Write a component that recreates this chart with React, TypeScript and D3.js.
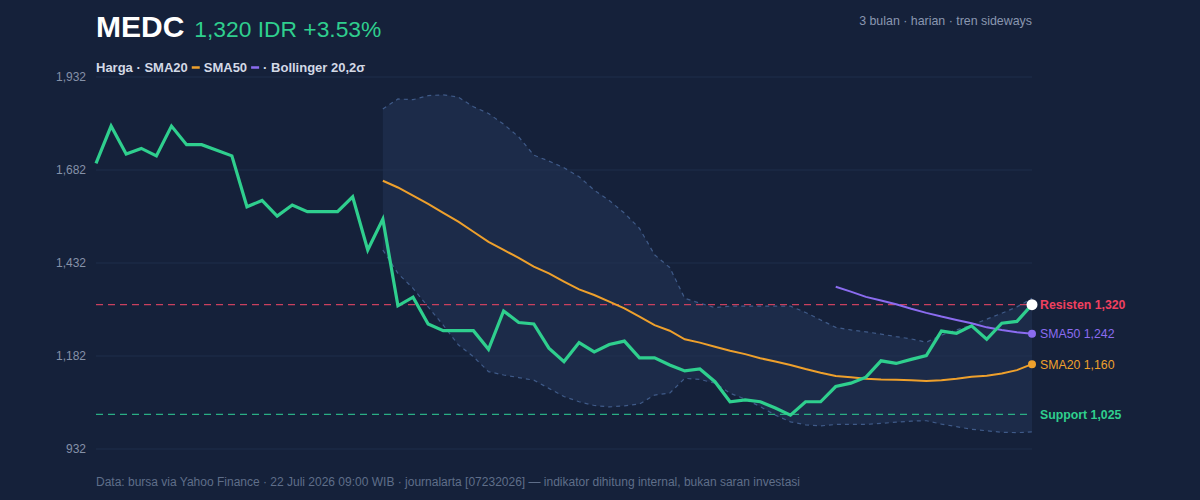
import { useEffect, useRef } from "react";
import * as d3 from "d3";

// daily closes, 3 months (63 sessions)
const price = [
  1700, 1800, 1725, 1740, 1720, 1800, 1750, 1750, 1735, 1720, 1583, 1600, 1558,
  1588, 1570, 1570, 1570, 1610, 1467, 1550, 1317, 1340, 1268, 1250, 1250, 1250,
  1200, 1303, 1272, 1268, 1203, 1167, 1218, 1193, 1213, 1222, 1177, 1177, 1158,
  1142, 1147, 1113, 1059, 1064, 1059, 1042, 1023, 1059, 1059, 1100, 1109, 1125,
  1169, 1162, 1173, 1183, 1249, 1243, 1263, 1227, 1270, 1275, 1320,
];

// indicators start at session 19 (SMA20 / bands) and 49 (SMA50)
const sma20Start = 19;
const sma20 = [
  1653, 1635, 1613, 1591, 1567, 1543, 1516, 1489, 1467, 1446, 1422, 1404, 1382,
  1361, 1346, 1328, 1310, 1288, 1265, 1250, 1227, 1218, 1207, 1196, 1187, 1176,
  1167, 1158, 1147, 1137, 1128, 1125, 1121, 1119, 1118, 1117, 1115, 1117, 1121,
  1126, 1129, 1135, 1144, 1160,
];
const bandUpper = [
  1846, 1873, 1871, 1882, 1884, 1878, 1852, 1834, 1805, 1771, 1722, 1706, 1688,
  1664, 1628, 1600, 1566, 1525, 1454, 1420, 1337, 1324, 1312, 1316, 1316, 1316,
  1316, 1316, 1299, 1279, 1259, 1252, 1247, 1241, 1234, 1228, 1219, 1238, 1252,
  1265, 1281, 1297, 1314, 1337,
];
const bandLower = [
  1467, 1404, 1364, 1314, 1265, 1212, 1180, 1140, 1131, 1124, 1117, 1095, 1073,
  1059, 1049, 1045, 1048, 1053, 1077, 1082, 1122, 1119, 1109, 1082, 1066, 1046,
  1023, 1005, 997, 994, 998, 998, 998, 1001, 1004, 1007, 1008, 999, 992, 985,
  981, 977, 976, 978,
];
const sma50Start = 49;
const sma50 = [
  1368, 1355, 1341, 1331, 1321, 1309, 1298, 1288, 1279, 1270, 1259, 1252, 1246,
  1242,
];

const resistance = 1320;
const support = 1025;
const yTicks = [932, 1182, 1432, 1682, 1932];

const FONT = "'Liberation Sans', Arial, Helvetica, sans-serif";

const App = () => {
  const svgRef = useRef<SVGSVGElement>(null);

  useEffect(() => {
    document.body.style.margin = "0";
    const width = 1200;
    const height = 500;
    const left = 96;
    const right = 1032;

    const svg = d3.select(svgRef.current);
    svg.selectAll("*").remove();
    svg.attr("width", width).attr("height", height).style("display", "block");

    svg
      .append("rect")
      .attr("width", width)
      .attr("height", height)
      .attr("fill", "#15213a");

    const x = d3
      .scaleLinear()
      .domain([0, price.length - 1])
      .range([left, right]);
    const y = d3.scaleLinear().domain([932, 1932]).range([449, 77]);

    // bollinger band fill
    const band = bandUpper.map((u, i) => ({
      i: i + sma20Start,
      u,
      l: bandLower[i],
    }));
    const area = d3
      .area<{ i: number; u: number; l: number }>()
      .x((d) => x(d.i))
      .y0((d) => y(d.l))
      .y1((d) => y(d.u));
    svg
      .append("path")
      .attr("d", area(band))
      .attr("fill", "#1c2b49");

    // grid
    svg
      .append("g")
      .selectAll("line")
      .data(yTicks)
      .join("line")
      .attr("x1", left)
      .attr("x2", right)
      .attr("y1", (d) => y(d))
      .attr("y2", (d) => y(d))
      .attr("stroke", "#243452")
      .attr("stroke-opacity", 0.7)
      .attr("stroke-width", 1);

    svg
      .append("g")
      .selectAll("text")
      .data(yTicks)
      .join("text")
      .attr("x", 86)
      .attr("y", (d) => y(d) + 4)
      .attr("text-anchor", "end")
      .attr("font-family", FONT)
      .attr("font-size", 12)
      .attr("fill", "#8591a8")
      .text((d) => d3.format(",")(d));

    // band edges
    const edge = d3
      .line<number>()
      .x((_, i) => x(i + sma20Start))
      .y((d) => y(d));
    [bandUpper, bandLower].forEach((b) => {
      svg
        .append("path")
        .attr("d", edge(b))
        .attr("fill", "none")
        .attr("stroke", "#3f5a88")
        .attr("stroke-width", 1.2)
        .attr("stroke-dasharray", "4,4");
    });

    // support / resistance
    const levels = [
      { v: resistance, c: "#c8405e" },
      { v: support, c: "#2aae84" },
    ];
    levels.forEach((lv) => {
      svg
        .append("line")
        .attr("x1", left)
        .attr("x2", right)
        .attr("y1", y(lv.v))
        .attr("y2", y(lv.v))
        .attr("stroke", lv.c)
        .attr("stroke-width", 1.3)
        .attr("stroke-dasharray", "7,5");
    });

    // SMA20
    svg
      .append("path")
      .attr("d", edge(sma20))
      .attr("fill", "none")
      .attr("stroke", "#eea02c")
      .attr("stroke-width", 2);

    // SMA50
    const line50 = d3
      .line<number>()
      .x((_, i) => x(i + sma50Start))
      .y((d) => y(d));
    svg
      .append("path")
      .attr("d", line50(sma50))
      .attr("fill", "none")
      .attr("stroke", "#8b6cf0")
      .attr("stroke-width", 2);

    // price
    const linePrice = d3
      .line<number>()
      .x((_, i) => x(i))
      .y((d) => y(d));
    svg
      .append("path")
      .attr("d", linePrice(price))
      .attr("fill", "none")
      .attr("stroke", "#2fcf8e")
      .attr("stroke-width", 3.2)
      .attr("stroke-linejoin", "miter");

    const last = price.length - 1;
    svg
      .append("circle")
      .attr("cx", x(last))
      .attr("cy", y(sma50[sma50.length - 1]))
      .attr("r", 4)
      .attr("fill", "#8b6cf0");
    svg
      .append("circle")
      .attr("cx", x(last))
      .attr("cy", y(sma20[sma20.length - 1]))
      .attr("r", 4)
      .attr("fill", "#eea02c");
    svg
      .append("circle")
      .attr("cx", x(last))
      .attr("cy", y(price[last]))
      .attr("r", 5.5)
      .attr("fill", "#ffffff");

    // right labels
    const fmt = d3.format(",");
    const labels = [
      { t: `Resisten ${fmt(resistance)}`, v: resistance, c: "#f0405f", w: 700 },
      { t: `SMA50 ${fmt(sma50[sma50.length - 1])}`, v: sma50[sma50.length - 1], c: "#8b6cf0", w: 400 },
      { t: `SMA20 ${fmt(sma20[sma20.length - 1])}`, v: sma20[sma20.length - 1], c: "#eea02c", w: 400 },
      { t: `Support ${fmt(support)}`, v: support, c: "#2fcf8e", w: 700 },
    ];
    svg
      .append("g")
      .selectAll("text")
      .data(labels)
      .join("text")
      .attr("x", 1040)
      .attr("y", (d) => y(d.v) + 4.5)
      .attr("font-family", FONT)
      .attr("font-size", 12.3)
      .attr("font-weight", (d) => d.w)
      .attr("fill", (d) => d.c)
      .text((d) => d.t);

    // header
    const title = svg
      .append("text")
      .attr("x", 96)
      .attr("y", 37)
      .attr("font-family", FONT);
    title
      .append("tspan")
      .attr("font-size", 30)
      .attr("font-weight", 700)
      .attr("fill", "#ffffff")
      .text("MEDC");
    title
      .append("tspan")
      .attr("dx", 10)
      .attr("font-size", 22.8)
      .attr("fill", "#2fcf8e")
      .text(
        `${fmt(price[last])} IDR +${(((price[last] - price[last - 1]) / price[last - 1]) * 100).toFixed(2)}%`
      );

    svg
      .append("text")
      .attr("x", right)
      .attr("y", 25)
      .attr("text-anchor", "end")
      .attr("font-family", FONT)
      .attr("font-size", 12.4)
      .attr("fill", "#8a97b0")
      .text("3 bulan · harian · tren sideways");

    // legend
    const lg = svg.append("g").attr("font-family", FONT).attr("font-size", 13).attr("font-weight", 700).attr("fill", "#d3d9e6");
    const t1 = lg.append("text").attr("x", 96).attr("y", 72).text("Harga · SMA20");
    const w1 = (t1.node() as SVGTextElement).getComputedTextLength();
    let cx = 96 + w1 + 4;
    lg.append("line").attr("x1", cx).attr("x2", cx + 8).attr("y1", 67.5).attr("y2", 67.5).attr("stroke", "#eea02c").attr("stroke-width", 2.5);
    cx += 12;
    const t2 = lg.append("text").attr("x", cx).attr("y", 72).text("SMA50");
    cx += (t2.node() as SVGTextElement).getComputedTextLength() + 4;
    lg.append("line").attr("x1", cx).attr("x2", cx + 8).attr("y1", 67.5).attr("y2", 67.5).attr("stroke", "#8b6cf0").attr("stroke-width", 2.5);
    cx += 12;
    lg.append("text").attr("x", cx).attr("y", 72).text("· Bollinger 20,2σ");

    // footer
    svg
      .append("text")
      .attr("x", 96)
      .attr("y", 486)
      .attr("font-family", FONT)
      .attr("font-size", 12)
      .attr("fill", "#5f6e89")
      .text(
        "Data: bursa via Yahoo Finance · 22 Juli 2026 09:00 WIB · journalarta [07232026] — indikator dihitung internal, bukan saran investasi"
      );
  }, []);

  return <svg ref={svgRef}></svg>;
};

export default App;
